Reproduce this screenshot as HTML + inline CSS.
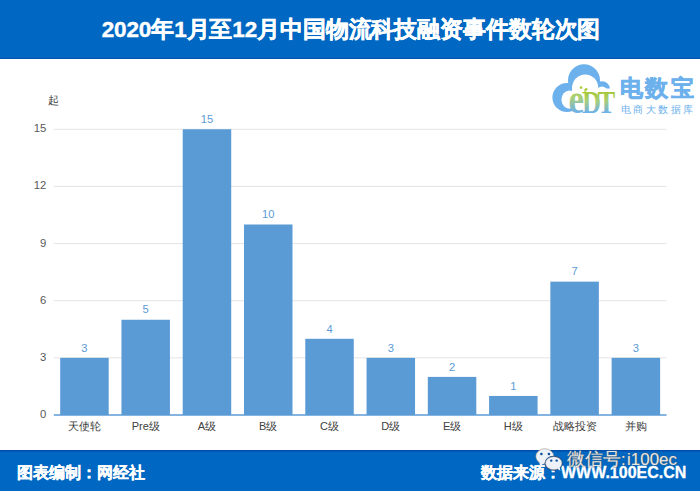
<!DOCTYPE html>
<html><head><meta charset="utf-8">
<style>
html,body{margin:0;padding:0;}
body{width:700px;height:491px;position:relative;overflow:hidden;background:#fff;font-family:"Liberation Sans",sans-serif;}
#hdr{position:absolute;left:0;top:0;width:700px;height:59px;background:#0068c2;box-shadow:inset 0 -1.5px 0 #005ab2;}
#title{position:absolute;left:1px;top:15.5px;width:700px;text-align:center;color:#fff;font-weight:bold;font-size:22.5px;line-height:28px;white-space:nowrap;-webkit-text-stroke:0.4px #fff;letter-spacing:-0.12px;}
#ftr{position:absolute;left:0;top:450px;width:700px;height:41px;background:#0068c2;box-shadow:inset 0 1.5px 0 #004aaa;}
#fl{position:absolute;left:17px;top:461.5px;color:#fff;font-weight:bold;font-size:16px;line-height:22px;white-space:nowrap;-webkit-text-stroke:0.3px #fff;}
#fr{position:absolute;left:481px;top:461.5px;color:#fff;font-weight:bold;font-size:16px;line-height:22px;white-space:nowrap;-webkit-text-stroke:0.3px #fff;}
svg{position:absolute;left:0;top:0;}
.dl{fill:#5b9bd5;font-size:11.2px;text-anchor:middle;font-family:"Liberation Sans",sans-serif;}
.xl{fill:#404040;font-size:11px;text-anchor:middle;font-family:"Liberation Sans",sans-serif;}
.yl{fill:#595959;font-size:11.3px;text-anchor:end;font-family:"Liberation Sans",sans-serif;}
#lt{position:absolute;left:619.5px;top:73.6px;color:#6cb0ec;font-weight:bold;font-size:23px;line-height:28px;letter-spacing:2.6px;white-space:nowrap;-webkit-text-stroke:0.6px #6cb0ec;}
#ls{position:absolute;left:620.5px;top:102.7px;color:#6cb0ec;font-size:9.5px;line-height:14px;letter-spacing:2.55px;white-space:nowrap;}
#wx{position:absolute;left:567px;top:447px;color:rgba(255,255,255,0.85);font-size:18px;line-height:24px;white-space:nowrap;text-shadow:0 0 1px #666,0 0 1px #666;}
</style></head><body>
<div id="hdr"></div>
<div id="title">2020年1月至12月中国物流科技融资事件数轮次图</div>
<svg width="700" height="491" viewBox="0 0 700 491">
<line x1="53.8" x2="666.5" y1="357.85" y2="357.85" stroke="#e4e4e4" stroke-width="1"/><line x1="53.8" x2="666.5" y1="300.70" y2="300.70" stroke="#e4e4e4" stroke-width="1"/><line x1="53.8" x2="666.5" y1="243.55" y2="243.55" stroke="#e4e4e4" stroke-width="1"/><line x1="53.8" x2="666.5" y1="186.40" y2="186.40" stroke="#e4e4e4" stroke-width="1"/><line x1="53.8" x2="666.5" y1="129.25" y2="129.25" stroke="#e4e4e4" stroke-width="1"/>
<rect x="60.19" y="357.85" width="48.5" height="57.15" fill="#5b9bd5"/><text class="dl" x="84.44" y="351.55">3</text><text class="xl" x="84.44" y="430">天使轮</text><rect x="121.45" y="319.75" width="48.5" height="95.25" fill="#5b9bd5"/><text class="dl" x="145.70" y="313.45">5</text><text class="xl" x="145.70" y="430">Pre级</text><rect x="182.72" y="129.25" width="48.5" height="285.75" fill="#5b9bd5"/><text class="dl" x="206.97" y="122.95">15</text><text class="xl" x="206.97" y="430">A级</text><rect x="244.00" y="224.50" width="48.5" height="190.50" fill="#5b9bd5"/><text class="dl" x="268.25" y="218.20">10</text><text class="xl" x="268.25" y="430">B级</text><rect x="305.26" y="338.80" width="48.5" height="76.20" fill="#5b9bd5"/><text class="dl" x="329.51" y="332.50">4</text><text class="xl" x="329.51" y="430">C级</text><rect x="366.54" y="357.85" width="48.5" height="57.15" fill="#5b9bd5"/><text class="dl" x="390.79" y="351.55">3</text><text class="xl" x="390.79" y="430">D级</text><rect x="427.81" y="376.90" width="48.5" height="38.10" fill="#5b9bd5"/><text class="dl" x="452.06" y="370.60">2</text><text class="xl" x="452.06" y="430">E级</text><rect x="489.08" y="395.95" width="48.5" height="19.05" fill="#5b9bd5"/><text class="dl" x="513.33" y="389.65">1</text><text class="xl" x="513.33" y="430">H级</text><rect x="550.35" y="281.65" width="48.5" height="133.35" fill="#5b9bd5"/><text class="dl" x="574.60" y="275.35">7</text><text class="xl" x="574.60" y="430">战略投资</text><rect x="611.62" y="357.85" width="48.5" height="57.15" fill="#5b9bd5"/><text class="dl" x="635.87" y="351.55">3</text><text class="xl" x="635.87" y="430">并购</text>
<line x1="53.8" x2="666.5" y1="415.0" y2="415.0" stroke="#5b9bd5" stroke-width="1.3"/>
<text class="yl" x="46.3" y="418.00">0</text><text class="yl" x="46.3" y="360.85">3</text><text class="yl" x="46.3" y="303.70">6</text><text class="yl" x="46.3" y="246.55">9</text><text class="yl" x="46.3" y="189.40">12</text><text class="yl" x="46.3" y="132.25">15</text>
<text class="xl" x="53.5" y="104" style="font-size:11px">起</text>
</svg>

<svg width="700" height="491" viewBox="0 0 700 491">
<defs>
<linearGradient id="lg" gradientUnits="userSpaceOnUse" x1="0" y1="92" x2="0" y2="112.5">
<stop offset="0" stop-color="#a6c93c"/>
<stop offset="0.4" stop-color="#a9cf7a"/>
<stop offset="1" stop-color="#6cb0e8"/>
</linearGradient>
</defs>
<g fill="#6cb0ec">
<circle cx="567" cy="97.5" r="14.6"/>
<circle cx="584" cy="80.3" r="16"/>
<circle cx="602" cy="89.5" r="8.2"/>
</g>
<g fill="#fff">
<ellipse cx="569.5" cy="99.6" rx="8.1" ry="9.1"/>
<circle cx="585.2" cy="87.5" r="13"/>
<circle cx="602" cy="92" r="5.5"/>
<polygon points="572,86.5 590,86.5 590,88.6 620,88.6 620,125 572,125"/>

</g>
<g fill="url(#lg)" font-family="Liberation Serif, serif" font-weight="bold">
<text x="568.5" y="113" font-size="35" transform="translate(568.5 113) scale(1.0 1.2) translate(-568.5 -113)">e</text>
<text x="582" y="113" font-size="33.8" transform="translate(582 113) scale(0.78 0.96) translate(-582 -113)">D</text>
<text x="597.5" y="113" font-size="32" transform="translate(597.5 113) scale(0.83 0.96) translate(-597.5 -113)">T</text>
</g>
<circle cx="581" cy="87.6" r="1.3" fill="#a9cc3a"/>
<circle cx="586.2" cy="89.2" r="1.3" fill="#a9cc3a"/><rect x="584.4" y="89" width="1.4" height="4" fill="#a9cc3a"/>
</svg>
<div id="lt">电数宝</div>
<div id="ls">电商大数据库</div>

<div id="ftr"></div>
<div id="fl">图表编制：网经社</div>
<div id="fr">数据来源：WWW.100EC.CN</div>

<svg width="700" height="491" viewBox="0 0 700 491">
<ellipse cx="544.8" cy="456.5" rx="9" ry="7.8" fill="#edf1f8" stroke="#8c7f74" stroke-width="0.5"/>
<path d="M539.5 462 L539.8 466 L544 463.5 Z" fill="#edf1f8"/>
<circle cx="541.4" cy="454" r="1.3" fill="#0c4f9c"/>
<circle cx="548.9" cy="454" r="1.3" fill="#0c4f9c"/>
<ellipse cx="553.7" cy="463.2" rx="9.2" ry="7.5" fill="#1f4f8a"/>
<ellipse cx="553.7" cy="463.2" rx="8.2" ry="6.5" fill="#edf1f8" stroke="#8c7f74" stroke-width="0.4"/>
<path d="M557 468.5 L560.3 470.8 L559.8 467 Z" fill="#edf1f8"/>
<circle cx="551.2" cy="460.6" r="1.2" fill="#0c4f9c"/>
<circle cx="556.7" cy="460.6" r="1.2" fill="#0c4f9c"/>
</svg>
<div id="wx"><span style="font-size:17.5px">微信号</span><span style="font-size:17px;word-spacing:-3.5px">: i100ec</span></div>

</body></html>
